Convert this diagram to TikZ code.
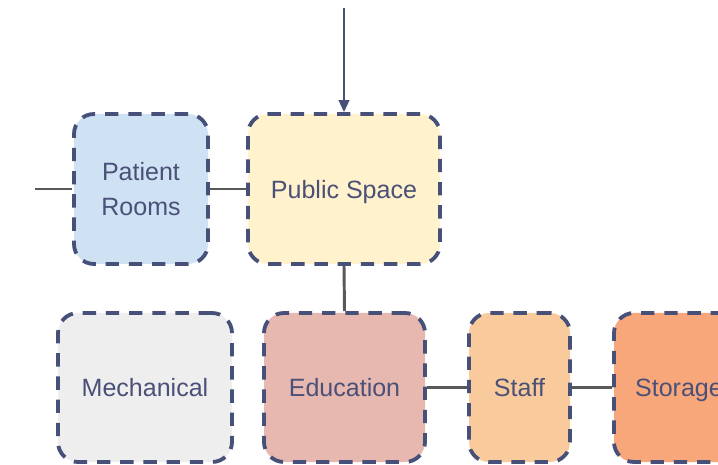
\documentclass[tikz,border=0pt]{standalone}
\usepackage{fontspec}
\setmainfont{Liberation Sans}
\usetikzlibrary{positioning}
\usetikzlibrary{arrows.meta}

\definecolor{edgeblue}{HTML}{465079}
\definecolor{textblue}{HTML}{4A5078}
\definecolor{linegray}{HTML}{595959}
\definecolor{roomblue}{HTML}{CFE2F3}
\definecolor{publicyellow}{HTML}{FFF2CC}
\definecolor{mechgray}{HTML}{EEEEEE}
\definecolor{edurose}{HTML}{E6B8AF}
\definecolor{staffpeach}{HTML}{F9CB9C}
\definecolor{storeorange}{HTML}{F8A77B}

\tikzset{
    zone/.style={draw=edgeblue, line width=2.7pt, dash pattern=on 9.5pt off 7pt,
        rounded corners=0.5cm, align=center, text=textblue,
        font=\fontsize{17.8}{25}\selectfont, inner sep=0pt},
    link/.style={draw=linegray, line width=2.1pt}
}

\begin{document}
\begin{tikzpicture}
            \useasboundingbox (0,0) rectangle (17.95,11.6);

            % Top row
            \node[zone, fill=roomblue, minimum width=3.35cm, minimum height=3.75cm]
                (rooms) at (3.525,6.875) {Patient\\Rooms};
            \node[zone, fill=publicyellow, minimum width=4.8cm, minimum height=3.75cm, text depth=0pt]
                (public) at (8.6,6.875) {Public Space};

            % Bottom row
            \node[zone, fill=mechgray, minimum width=4.35cm, minimum height=3.725cm]
                (mech) at (3.625,1.9125) {Mechanical};
            \node[zone, fill=edurose, minimum width=4.025cm, minimum height=3.725cm]
                (edu) at (8.6125,1.9125) {Education};
            \node[zone, fill=staffpeach, minimum width=2.525cm, minimum height=3.725cm]
                (staff) at (12.9875,1.9125) {Staff};
            \node[zone, fill=storeorange, minimum width=3.25cm, minimum height=3.725cm, text depth=0pt]
                (store) at (16.975,1.9125) {Storage};

            % Loose ends
            \coordinate (west) at (0.875,6.875);
            \coordinate (entry) at (8.6,11.4);

            % Connectors
            \draw[link] (west) -- (rooms.west);
            \draw[link] (rooms.east) -- (public.west);
            \draw[link] (public.south) -- (edu.north);
            \draw[link] (edu.east) -- (staff.west);
            \draw[link] (staff.east) -- (store.west);
            \draw[edgeblue, line width=1.6pt, -{Triangle[length=8.5pt, width=7.5pt]}] (entry) -- (public.north);
        \end{tikzpicture}
\end{document}
